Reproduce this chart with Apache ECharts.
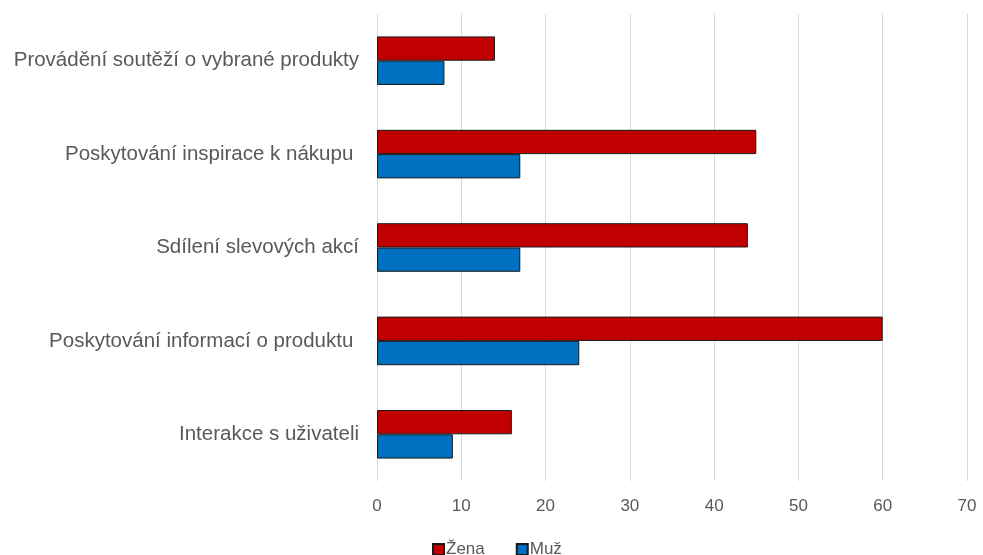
<!DOCTYPE html>
<html>
<head>
<meta charset="utf-8">
<script src="https://cdn.jsdelivr.net/npm/echarts@6/dist/echarts.min.js"></script>
<style>
    html, body { margin: 0; padding: 0; background: #fff; }
    #chart { width: 983px; height: 555px; }
</style>
</head>
<body>
<div id="chart"></div>
<script>
// kategorie shora dolů
const categories = [
    'Provádění soutěží o vybrané produkty',
    'Poskytování inspirace k nákupu ',
    'Sdílení slevových akcí',
    'Poskytování informací o produktu ',
    'Interakce s uživateli'
];
const zenaValues = [14, 45, 44, 60, 16];
const muzValues = [8, 17, 17, 24, 9];
const xTicks = [0, 10, 20, 30, 40, 50, 60, 70];

const textColor = '#595959';
const font = 'Liberation Sans, Arial, sans-serif';

const myChart = echarts.init(document.getElementById('chart'));
const option = {
    animation: false,
    grid: {
        left: 377,
        right: 16,
        top: 14,
        bottom: 74
    },
    legend: {
        top: 536,
        left: 427,
        itemWidth: 11,
        itemHeight: 11,
        itemGap: 31,
        icon: 'rect',
        textStyle: {
            color: textColor,
            fontSize: 17,
            fontFamily: font,
            padding: [0, 0, 0, -3]
        },
        data: ['Žena', 'Muž']
    },
    xAxis: {
        type: 'value',
        min: xTicks[0],
        max: xTicks[xTicks.length - 1],
        interval: 10,
        axisLine: { show: false },
        axisTick: { show: false },
        axisLabel: {
            color: textColor,
            fontSize: 17,
            fontFamily: font,
            margin: 17
        },
        splitLine: {
            lineStyle: { color: '#d9d9d9', width: 1 }
        }
    },
    yAxis: {
        type: 'category',
        inverse: true,
        data: categories,
        axisLine: { show: false },
        axisTick: { show: false },
        axisLabel: {
            color: textColor,
            fontSize: 20.5,
            fontFamily: font,
            margin: 18
        }
    },
    series: [
        {
            name: 'Žena',
            type: 'bar',
            data: zenaValues,
            barGap: '0%',
            barCategoryGap: '48%',
            itemStyle: {
                color: '#c00000',
                borderColor: '#1a1a1a',
                borderWidth: 1
            }
        },
        {
            name: 'Muž',
            type: 'bar',
            data: muzValues,
            barGap: '0%',
            barCategoryGap: '48%',
            itemStyle: {
                color: '#0070c0',
                borderColor: '#1a1a1a',
                borderWidth: 1
            }
        }
    ]
};
myChart.setOption(option);
</script>
</body>
</html>
